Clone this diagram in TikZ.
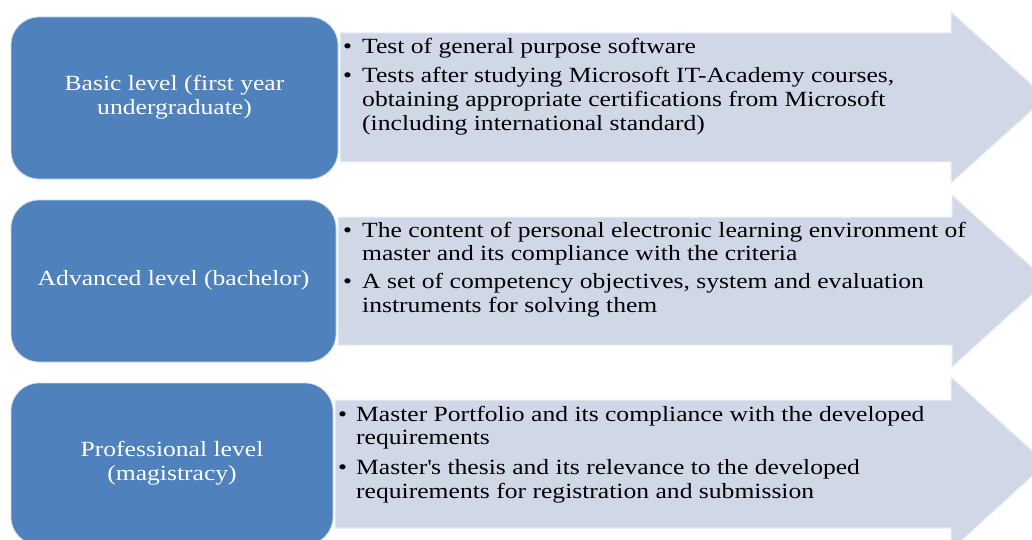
\documentclass[tikz,border=0pt]{standalone}
\usepackage{fontspec}
\setmainfont{Liberation Serif}[FakeStretch=1.18]
\definecolor{boxblue}{RGB}{79,129,189}
\definecolor{arrowfill}{RGB}{208,216,232}
\newcommand{\bul}[1]{\makebox[#1][l]{\textbullet}}
\begin{document}
\begin{tikzpicture}[x=1pt,y=-1pt,
  levelbox/.style={fill=boxblue, draw=white!70!boxblue, line width=0.8pt, rounded corners=28pt,
    inner sep=0pt, text=white, font=\fontsize{21.7}{24}\selectfont},
  rowarrow/.style={fill=arrowfill, draw=white!55!arrowfill, line width=1pt},
  itemtext/.style={inner sep=0pt, text=black, anchor=base west, font=\fontsize{21.7}{23.7}\selectfont}]
\useasboundingbox (0,0) rectangle (1032,540);
\clip (0,0) rectangle (1032,540);
% arrows
\draw[rowarrow] (340,33) -- (951,33) -- (951,12) -- (1046,97.5) -- (951,183) -- (951,162) -- (340,162) -- cycle;
\draw[rowarrow] (338,217) -- (952,217) -- (952,195) -- (1047,281) -- (952,367) -- (952,345) -- (338,345) -- cycle;
\draw[rowarrow] (335,400) -- (951,400) -- (951,377) -- (1046,463.5) -- (951,550) -- (951,528) -- (335,528) -- cycle;
% level boxes
\node[levelbox, minimum width=327pt, minimum height=162pt] (b1) at (174.5,98)
  {\begin{tabular}{@{}c@{}}Basic level (first year\\undergraduate)\end{tabular}};
\node[levelbox, minimum width=325pt, minimum height=162pt] (b2) at (173.5,281)
  {\begin{tabular}{@{}c@{}}Advanced level (bachelor)\end{tabular}};
\node[levelbox, minimum width=322pt, minimum height=162pt] (b3) at (172,464)
  {\begin{tabular}{@{}c@{}}Professional level\\(magistracy)\end{tabular}};
% item texts
\node[itemtext] (t1) at (343,54) {\begin{tabular}[t]{@{}l@{}l@{}}
  \bul{19pt} & Test of general purpose software\\[5.3pt]
  \bul{19pt} & Tests after studying Microsoft IT-Academy courses,\\
   & obtaining appropriate certifications from Microsoft\\
   & (including international standard)
  \end{tabular}};
\node[itemtext] (t2) at (343,237) {\begin{tabular}[t]{@{}l@{}l@{}}
  \bul{19pt} & The content of personal electronic learning environment of\\
   & master and its compliance with the criteria\\[4.3pt]
  \bul{19pt} & A set of competency objectives, system and evaluation\\
   & instruments for solving them
  \end{tabular}};
\node[itemtext] (t3) at (338,421) {\begin{tabular}[t]{@{}l@{}l@{}}
  \bul{18pt} & Master Portfolio and its compliance with the developed\\
   & requirements\\[6pt]
  \bul{18pt} & Master\textquotesingle s thesis and its relevance to the developed\\
   & requirements for registration and submission
  \end{tabular}};
\end{tikzpicture}
\end{document}
